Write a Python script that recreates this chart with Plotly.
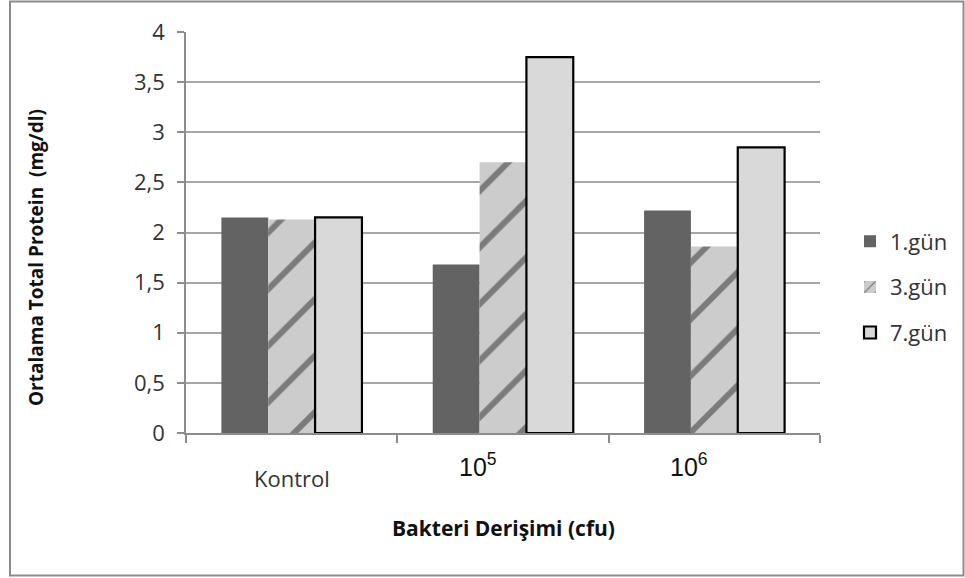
import plotly.graph_objects as go

categories = ["Kontrol", "10<sup>5</sup>", "10<sup>6</sup>"]
series_names = ["1.gün", "3.gün", "7.gün"]
gun1 = [2.15, 1.68, 2.22]
gun3 = [2.13, 2.70, 1.86]
gun7 = [2.15, 3.75, 2.85]
y_ticks = [0, 0.5, 1, 1.5, 2, 2.5, 3, 3.5, 4]
y_ticktext = ["0", "0,5", "1", "1,5", "2", "2,5", "3", "3,5", "4"]

W, H = 965, 578
ML, MR, MT, MB = 186, 145, 32, 145
PW, PH = W - ML - MR, H - MT - MB

FONT = "'Open Sans', Lato, sans-serif"
xs = list(range(len(categories)))

fig = go.Figure()
fig.add_trace(go.Bar(
    x=xs, y=gun1, name=series_names[0], legendgroup="a",
    marker=dict(color="#636363", line=dict(width=0)),
))
fig.add_trace(go.Bar(
    x=xs, y=gun3, name=series_names[1], legendgroup="b",
    marker=dict(color="#cfcfcf", line=dict(width=0),
                pattern=dict(shape="/", fgcolor="#2a2a2a", bgcolor="#cccccc",
                             size=40, solidity=0.15, fillmode="overlay")),
))
fig.add_trace(go.Bar(
    x=xs, y=gun7, name=series_names[2], legendgroup="c",
    marker=dict(color="#d9d9d9", line=dict(width=2.2, color="#000000")),
))

# category labels (offset as in reference)
for i, c in enumerate(categories):
    if i == 0:
        fig.add_annotation(x=i, y=0, xref="x", yref="y", text=c, showarrow=False,
                           yshift=-45, font=dict(family=FONT, size=22, color="#333333"))
    else:
        fig.add_annotation(x=i, y=0, xref="x", yref="y", text=c, showarrow=False,
                           xshift=-25, yshift=-32,
                           font=dict(family="Liberation Sans, Arial, sans-serif", size=25, color="#111111"))

# y-axis title (placed like the reference, slightly below plot centre)
fig.add_annotation(xref="paper", yref="paper", x=(36 - ML) / PW, y=(H - MB - 258) / PH,
                   xanchor="center", yanchor="middle",
                   text="<b>Ortalama Total Protein  (mg/dl)</b>", textangle=-90, showarrow=False,
                   font=dict(family=FONT, size=19, color="#111111"))

# x-axis title
fig.add_annotation(xref="paper", yref="paper", x=0.5, y=(H - MB - 528) / PH,
                   xanchor="center", yanchor="middle",
                   text="<b>Bakteri Derişimi (cfu)</b>", showarrow=False,
                   font=dict(family=FONT, size=21, color="#111111"))

# outer frame
fig.add_shape(type="rect", xref="paper", yref="paper",
              x0=(10 - ML) / PW, x1=(963.5 - ML) / PW,
              y0=(H - MB - 575.5) / PH, y1=(H - MB - 1.5) / PH,
              line=dict(color="#8c8c8c", width=2), fillcolor="rgba(0,0,0,0)", layer="below")

fig.update_layout(
    width=W, height=H,
    margin=dict(l=ML, r=MR, t=MT, b=MB),
    paper_bgcolor="white", plot_bgcolor="white",
    barmode="group", bargap=0.335, bargroupgap=0,
    font=dict(family=FONT, size=22, color="#333333"),
    showlegend=True,
    legend=dict(x=(850 - ML) / PW, xanchor="left", y=(H - MB - 287) / PH, yanchor="middle",
                font=dict(family=FONT, size=22, color="#333333"),
                tracegroupgap=14, bgcolor="rgba(0,0,0,0)"),
    xaxis=dict(
        range=[-0.5, 2.5], tickvals=xs, showticklabels=False, ticks="",
        showgrid=False, zeroline=False, automargin=False,
        showline=True, linecolor="#8c8c8c", linewidth=1.5,
        minor=dict(tick0=-0.5, dtick=1, ticks="outside", ticklen=8, tickcolor="#8c8c8c", tickwidth=1.5),
    ),
    yaxis=dict(
        range=[0, 4], tickvals=y_ticks, ticktext=y_ticktext, automargin=False,
        showgrid=True, gridcolor="#a6a6a6", gridwidth=1.5,
        zeroline=False, showline=True, linecolor="#8c8c8c", linewidth=1.5,
        ticks="outside", ticklen=7, tickcolor="#8c8c8c", tickwidth=1.5,
        ticklabelstandoff=8,
        tickfont=dict(family=FONT, size=22, color="#333333"),
    ),
)

fig.write_html("out.html")
